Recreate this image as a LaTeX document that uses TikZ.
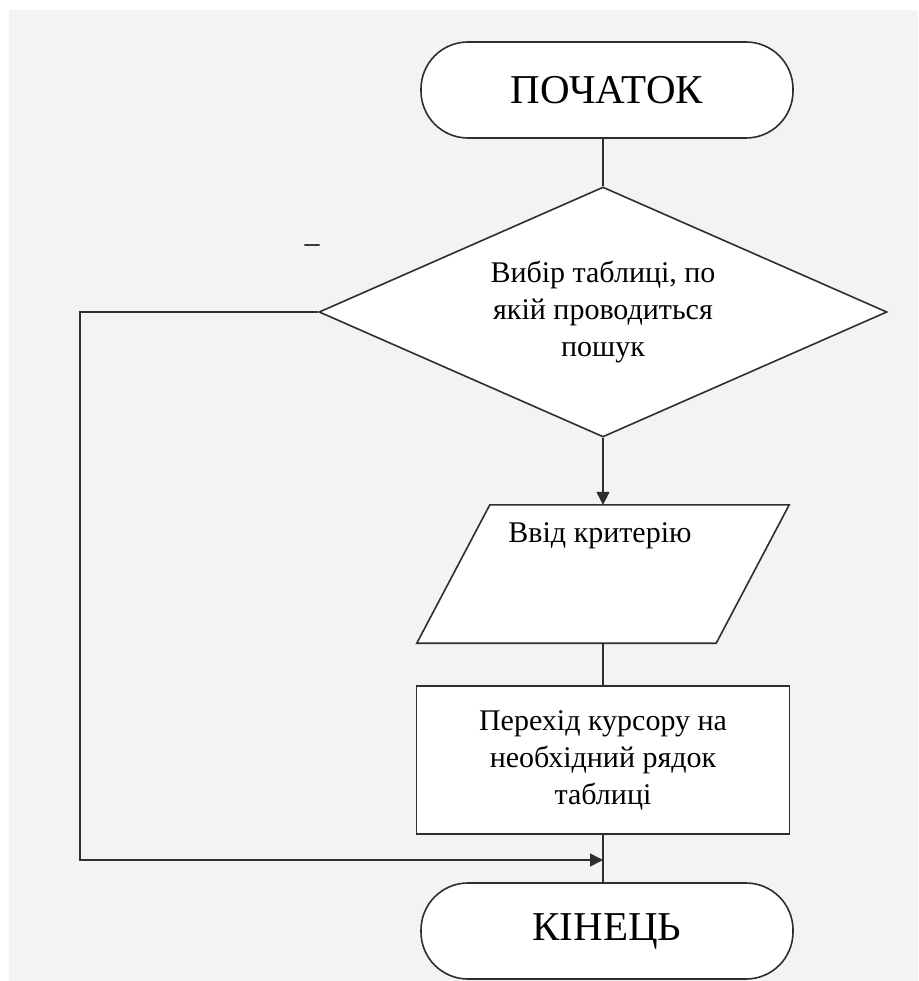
\documentclass[tikz,border=0pt]{standalone}
\usepackage{fontspec}
\setmainfont{Liberation Serif}
\usetikzlibrary{shapes.geometric,arrows.meta}
\definecolor{bgc}{HTML}{F3F3F3}
\definecolor{ln}{HTML}{2E2E2E}
\tikzset{
  lne/.style={draw=ln,line width=1.6pt},
  arr/.style={lne,-{Triangle[length=13pt,width=13pt]}},
  term/.style={lne,fill=white,rectangle,rounded corners=47pt,minimum width=372pt,minimum height=96pt,inner sep=0pt,font=\fontsize{41}{46}\selectfont},
  body/.style={font=\fontsize{30}{37}\selectfont,align=center},
}
\begin{document}
\begin{tikzpicture}[x=1pt,y=-1pt]
\useasboundingbox (0,0) rectangle (918,981);
\fill[white] (0,0) rectangle (918,981);
\fill[bgc] (9,10) rectangle (918,981);

\node[term] (start) at (607,90) {ПОЧАТОК};
\node[lne,fill=white,diamond,shape aspect=2.27,minimum width=568pt,minimum height=250pt,inner sep=0pt,body] (dia) at (603,312) {Вибір таблиці, по\\якій проводиться\\пошук};
\node[body] (minus) at (312,249) {–};
\node[rectangle,minimum width=372pt,minimum height=138pt,inner sep=0pt] (io) at (603,574) {};
\fill[white] ([xshift=73pt]io.north west) -- (io.north east) -- ([xshift=-73pt]io.south east) -- (io.south west) -- cycle;
\draw[lne,line join=miter] ([xshift=73pt]io.north west) -- (io.north east) -- ([xshift=-73pt]io.south east) -- (io.south west) -- cycle;
\node[body,anchor=base] (iotext) at (600,542) {Ввід критерію};
\node[lne,fill=white,rectangle,minimum width=373pt,minimum height=148pt,inner sep=0pt,body] (proc) at (603,760) {Перехід курсору на\\необхідний рядок\\таблиці};
\node[term] (end) at (607,931) {КІНЕЦЬ};

\coordinate (lc) at (80,860);
\draw[lne] (start.south -| dia.north) -- (dia.north);
\draw[arr] (dia.south) -- (io.north);
\draw[lne] (io.south) -- (proc.north);
\draw[lne] (proc.south) -- (proc.south |- end.north);
\draw[arr] (dia.west) -| (lc) -- (proc.south |- lc);
\end{tikzpicture}
\end{document}
